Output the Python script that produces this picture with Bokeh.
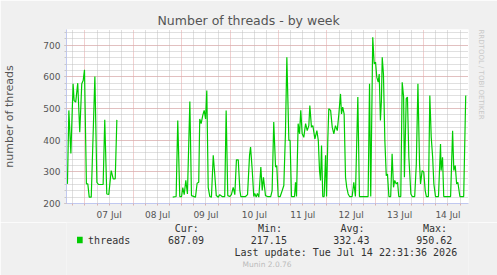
import math
from bokeh.plotting import figure
from bokeh.layouts import column
from bokeh.models import Range1d, FixedTicker, SingleIntervalTicker, Title, BoxAnnotation
from bokeh.core.properties import value
from bokeh.embed import file_html
from bokeh.resources import INLINE

NaN = float("nan")

# time axis: hours since 06 Jul 00:00
hours = (
    [15.3, 16.0, 17.0, 18.1, 18.6, 19.4, 20.4, 21.4, 22.4, 23.1, 23.75, 24.7, 25.4,
     26.1, 27.1, 28.9, 29.9, 30.7, 33.0, 33.8, 34.8, 35.8, 37.0, 38.0, 39.0, 39.8]
    + [NaN]
    + [67.5, 69.2, 70.0, 71.0, 71.9, 72.5, 73.2, 74.0, 74.8, 76.0, 76.8, 78.8, 79.6,
       80.4, 80.9, 81.6, 82.4, 83.1, 83.8, 84.4, 85.1, 85.9, 86.7, 87.6, 88.2, 89.1,
       90.1, 90.8, 92.0, 93.3, 94.0, 94.8, 95.8, 96.6, 97.5, 98.3, 99.1, 100.0, 100.8]
    + [101.3, 103.6, 104.6, 105.6, 106.1, 106.9, 107.7, 108.2, 108.9, 109.5, 110.2,
       111.2, 111.9, 112.5, 113.5, 114.5, 116.1, 116.8, 117.6, 118.5, 119.1, 119.8,
       120.8, 121.8, 122.6, 123.4, 124.1, 125.1, 125.7, 126.4, 127.9, 128.4, 128.9]
    + [129.7, 130.4, 131.0, 131.7, 132.5, 133.4, 134.2, 135.0, 135.5, 136.3, 137.0,
       138.0, 139.0, 139.7, 140.3, 140.8, 141.3, 141.9, 142.6, 143.3, 143.8, 144.4,
       144.9, 145.8, 146.6, 147.4, 148.2, 149.1, 149.9, 150.7, 151.2, 151.8, 152.5,
       153.2, 153.8, 154.5, 155.2, 156.5, 157.3, 158.1, 159.3, 160.1, 164.4]
    + [165.1, 165.7, 166.7, 167.4, 168.1, 168.7, 169.4, 169.9, 170.5, 171.0, 171.4,
       172.0, 172.7, 173.4, 174.0, 174.7, 175.6, 176.3, 177.0, 177.6, 178.3, 179.0,
       179.6, 180.6, 181.3, 182.0, 182.4, 183.3, 183.9, 184.6, 185.6, 186.3, 187.5]
    + [188.3, 189.1, 189.9, 190.4, 191.2, 192.0, 192.7, 193.3, 194.3, 195.0, 195.7,
       196.4, 197.0, 197.8, 199.3, 200.3, 200.6, 201.3, 201.9, 205.3, 206.3, 206.9,
       207.6, 208.3, 208.9, 209.9, 211.8, 212.8]
)

threads = (
    [262, 494, 358, 578, 525, 520, 580, 425, 578, 588, 622, 262, 262,
     220, 220, 601, 267, 260, 260, 464, 230, 229, 304, 278, 278, 464]
    + [NaN]
    + [220, 222, 462, 222, 222, 250, 228, 273, 230, 522, 225, 220, 264,
       267, 467, 452, 478, 494, 467, 557, 251, 222, 220, 352, 304, 225,
       220, 228, 222, 222, 494, 225, 222, 228, 251, 228, 338, 338, 241]
    + [222, 222, 228, 352, 378, 309, 222, 232, 220, 232, 220,
       315, 241, 283, 225, 222, 222, 241, 457, 315, 320, 222,
       222, 241, 257, 420, 662, 399, 399, 222, 222, 267, 222]
    + [452, 420, 494, 420, 409, 452, 430, 446, 509, 441, 446,
       404, 430, 399, 304, 273, 383, 222, 222, 352, 222, 399,
       499, 494, 441, 420, 446, 430, 483, 546, 483, 504, 483,
       283, 251, 230, 222, 222, 267, 222, 536, 222, 222]
    + [578, 222, 725, 641, 646, 599, 583, 609, 462, 525, 662,
       609, 399, 288, 293, 222, 222, 357, 251, 273, 262, 267,
       222, 222, 583, 536, 283, 531, 536, 346, 230, 222, 222]
    + [325, 578, 325, 262, 304, 299, 241, 222, 222, 541, 409,
       346, 262, 222, 222, 388, 304, 346, 222, 222, 430, 304,
       320, 262, 267, 222, 222, 541]
)

day_ticks = [36, 60, 84, 108, 132, 156, 180, 204]
day_labels = ["07 Jul", "08 Jul", "09 Jul", "10 Jul", "11 Jul", "12 Jul", "13 Jul", "14 Jul"]
midnights = [24, 48, 72, 96, 120, 144, 168, 192]
six_hours = [18, 30, 36, 42, 54, 60, 66, 78, 84, 90, 102, 108, 114, 126, 132, 138,
             150, 156, 162, 174, 180, 186, 198, 204, 210]

title_text = "Number of threads - by week"
y_label = "number of threads"
side_text = "RRDTOOL / TOBI OETIKER"
series_name = "threads"
stat_names = ["Cur:", "Min:", "Avg:", "Max:"]
stat_values = ["687.09", "217.15", "332.43", "950.62"]
last_update = "Last update: Tue Jul 14 22:31:36 2026"
version_text = "Munin 2.0.76"

BG = "#f0f0f0"
W = 497
H1, H2 = 222, 53

p = figure(width=W, height=H1, output_backend="svg", toolbar_location=None,
           x_range=Range1d(14.83, 214.18), y_range=Range1d(200, 749.4),
           min_border_left=66, min_border_right=29, min_border_top=29, min_border_bottom=19)
p.background_fill_color = "white"
p.border_fill_color = BG
p.outline_line_color = None

p.title.text = title_text
p.title.align = "left"
p.title.offset = 91
p.title.standoff = 3
p.title.text_font = "DejaVu Sans"
p.title.text_font_size = "12.5px"
p.title.text_font_style = "normal"
p.title.text_color = "#555555"

p.add_layout(Title(text=side_text, align="left", standoff=17, text_font="DejaVu Sans",
                   text_font_size="7px", text_font_style="normal", text_color="#c8c8c8"),
             "right")

# grids
p.xgrid.ticker = FixedTicker(ticks=midnights, minor_ticks=six_hours)
p.ygrid.ticker = SingleIntervalTicker(interval=100, num_minor_ticks=5)
for g in (p.xgrid, p.ygrid):
    g.grid_line_color = "#e4a0a0"
    g.grid_line_dash = "1 1"
    g.minor_grid_line_color = "#c0c0c0"
    g.minor_grid_line_dash = "1 1"

# axes
p.xaxis.ticker = FixedTicker(ticks=day_ticks, minor_ticks=midnights + six_hours)
p.xaxis.major_label_overrides = {t: lab for t, lab in zip(day_ticks, day_labels)}
p.xaxis.major_tick_out = 0
p.xaxis.major_tick_in = 0
p.xaxis.minor_tick_out = 2
p.xaxis.minor_tick_in = 0
p.xaxis.minor_tick_line_color = "#d8b0b0"
p.xaxis.major_label_standoff = 4
p.yaxis.ticker = SingleIntervalTicker(interval=100, num_minor_ticks=5)
p.yaxis.major_tick_out = 2
p.yaxis.major_tick_in = 0
p.yaxis.minor_tick_out = 2
p.yaxis.minor_tick_in = 0
p.yaxis.major_tick_line_color = "#e4a0a0"
p.yaxis.minor_tick_line_color = "#c8c8c8"
p.yaxis.major_label_standoff = 4
p.yaxis.axis_label = y_label
p.yaxis.axis_label_standoff = 24
p.yaxis.axis_label_text_font = "DejaVu Sans"
p.yaxis.axis_label_text_font_size = "11px"
p.yaxis.axis_label_text_font_style = "normal"
p.yaxis.axis_label_text_color = "#555555"
for ax in (p.xaxis, p.yaxis):
    ax.axis_line_color = "#c0c8f0"
    ax.major_label_text_font = "DejaVu Sans"
    ax.major_label_text_font_size = "9px"
    ax.major_label_text_color = "#555555"

p.line(hours, threads, line_color="#00cc00", line_width=1.2)

# legend / info area below the chart (coordinates in pixels of this strip)
q = figure(width=W, height=H2, output_backend="svg", toolbar_location=None,
           x_range=Range1d(0, W), y_range=Range1d(H2, 0),
           min_border=0, x_axis_type=None, y_axis_type=None)
q.background_fill_color = BG
q.border_fill_color = BG
q.outline_line_color = None
q.xgrid.visible = False
q.ygrid.visible = False

mono = value("DejaVu Sans Mono")
ROW0, ROW1, ROW2, ROW3 = 5.5, 17.5, 29.7, 42
q.add_layout(BoxAnnotation(left=13, right=20, top=ROW1 - 3.2, bottom=ROW1 + 3.2,
                           fill_color="#00cc00", fill_alpha=1.0, line_color=None))
q.text(x=[26.7], y=[ROW1], text=[series_name], text_font=mono, text_font_size="10px",
       text_color="#333333", text_baseline="middle", text_align="left")
stat_right = [163.5, 266.5, 368.5, 470.5]
val_right = [170, 272.5, 374.5, 477]
q.text(x=stat_right, y=[ROW0] * 4, text=stat_names, text_font=mono, text_font_size="10px",
       text_color="#333333", text_baseline="middle", text_align="right")
q.text(x=val_right, y=[ROW1] * 4, text=stat_values, text_font=mono, text_font_size="10px",
       text_color="#333333", text_baseline="middle", text_align="right")
q.text(x=[483], y=[ROW2], text=[last_update], text_font=mono, text_font_size="10px",
       text_color="#333333", text_baseline="middle", text_align="right")
q.text(x=[248], y=[ROW3], text=[version_text], text_font=value("DejaVu Sans"),
       text_font_size="7.5px", text_color="#bbbbbb", text_baseline="middle", text_align="center")

layout = column(p, q, spacing=0)
open("out.html", "w").write(file_html(layout, INLINE))
